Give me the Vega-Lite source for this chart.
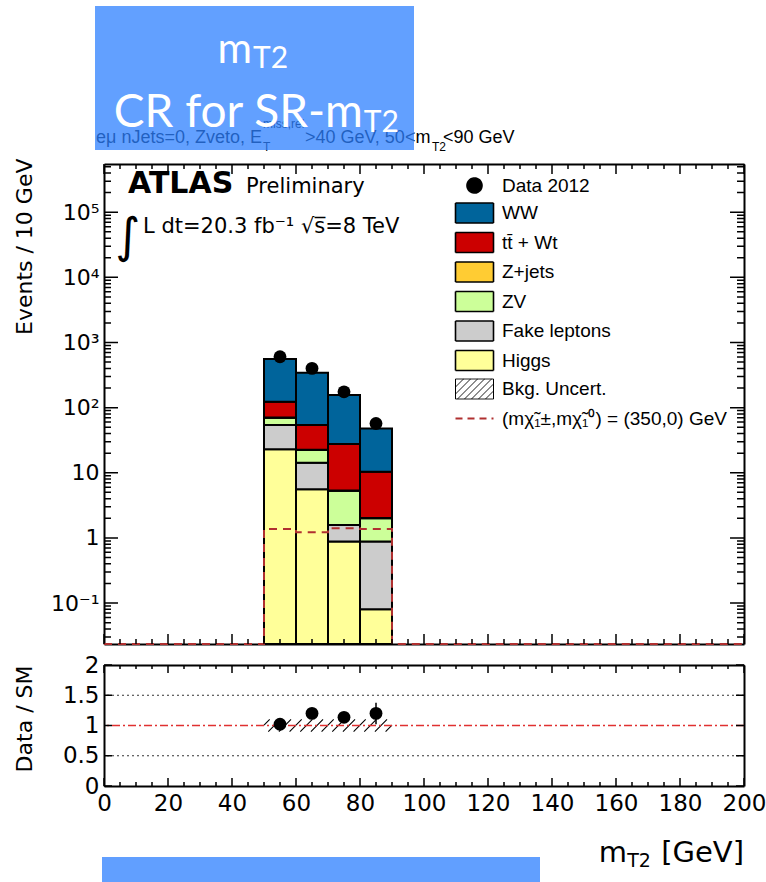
{
  "$schema": "https://vega.github.io/schema/vega-lite/v6.json",
  "width": 640,
  "height": 622,
  "autosize": {"type": "none"},
  "padding": {"left": 104, "top": 164, "right": 22, "bottom": 96},
  "background": "white",
  "datasets": {
    "ymaj": [{"v": 0.1}, {"v": 1}, {"v": 10}, {"v": 100}, {"v": 1000}, {"v": 10000}, {"v": 100000}],
    "ymin": [{"v": 0.03}, {"v": 0.04}, {"v": 0.05}, {"v": 0.06}, {"v": 0.07}, {"v": 0.08}, {"v": 0.09},
             {"v": 0.2}, {"v": 0.3}, {"v": 0.4}, {"v": 0.5}, {"v": 0.6}, {"v": 0.7}, {"v": 0.8}, {"v": 0.9},
             {"v": 2}, {"v": 3}, {"v": 4}, {"v": 5}, {"v": 6}, {"v": 7}, {"v": 8}, {"v": 9},
             {"v": 20}, {"v": 30}, {"v": 40}, {"v": 50}, {"v": 60}, {"v": 70}, {"v": 80}, {"v": 90},
             {"v": 200}, {"v": 300}, {"v": 400}, {"v": 500}, {"v": 600}, {"v": 700}, {"v": 800}, {"v": 900},
             {"v": 2000}, {"v": 3000}, {"v": 4000}, {"v": 5000}, {"v": 6000}, {"v": 7000}, {"v": 8000}, {"v": 9000},
             {"v": 20000}, {"v": 30000}, {"v": 40000}, {"v": 50000}, {"v": 60000}, {"v": 70000}, {"v": 80000}, {"v": 90000},
             {"v": 200000}, {"v": 300000}, {"v": 400000}, {"v": 500000}],
    "xmaj": [{"v": 0}, {"v": 20}, {"v": 40}, {"v": 60}, {"v": 80}, {"v": 100}, {"v": 120}, {"v": 140}, {"v": 160}, {"v": 180}, {"v": 200}],
    "xmin": [{"v": 5}, {"v": 10}, {"v": 15}, {"v": 25}, {"v": 30}, {"v": 35}, {"v": 45}, {"v": 50}, {"v": 55}, {"v": 65}, {"v": 70}, {"v": 75},
             {"v": 85}, {"v": 90}, {"v": 95}, {"v": 105}, {"v": 110}, {"v": 115}, {"v": 125}, {"v": 130}, {"v": 135}, {"v": 145}, {"v": 150}, {"v": 155},
             {"v": 165}, {"v": 170}, {"v": 175}, {"v": 185}, {"v": 190}, {"v": 195}],
    "rmaj": [{"v": 0}, {"v": 0.5}, {"v": 1}, {"v": 1.5}, {"v": 2}]
  },
  "config": {
    "view": {"stroke": null},
    "axis": {"zindex": 1, "domainColor": "black", "domainWidth": 2, "tickColor": "black", "tickWidth": 1.5, "labelColor": "black", "labelFont": "DejaVu Sans", "labelFontSize": 22, "titleFont": "DejaVu Sans", "titleFontWeight": "normal", "titleColor": "black", "grid": false, "labelOverlap": false, "labelFlush": false}
  },
  "resolve": {"scale": {"y": "independent"}, "axis": {"x": "independent", "y": "independent"}},
  "layer": [
    {
      "data": {"values": [
        {"comp": "Higgs", "lo": 50, "hi": 60, "ylo": 0.001, "yhi": 22.9},
        {"comp": "Fake leptons", "lo": 50, "hi": 60, "ylo": 22.9, "yhi": 54},
        {"comp": "ZV", "lo": 50, "hi": 60, "ylo": 54, "yhi": 70},
        {"comp": "Z+jets", "lo": 50, "hi": 60, "ylo": 70, "yhi": 70.4},
        {"comp": "tt̄ + Wt", "lo": 50, "hi": 60, "ylo": 70.4, "yhi": 123},
        {"comp": "WW", "lo": 50, "hi": 60, "ylo": 123, "yhi": 556},
        {"comp": "Higgs", "lo": 60, "hi": 70, "ylo": 0.001, "yhi": 5.6},
        {"comp": "Fake leptons", "lo": 60, "hi": 70, "ylo": 5.6, "yhi": 14.3},
        {"comp": "ZV", "lo": 60, "hi": 70, "ylo": 14.3, "yhi": 22.4},
        {"comp": "Z+jets", "lo": 60, "hi": 70, "ylo": 22.4, "yhi": 22.6},
        {"comp": "tt̄ + Wt", "lo": 60, "hi": 70, "ylo": 22.6, "yhi": 54},
        {"comp": "WW", "lo": 60, "hi": 70, "ylo": 54, "yhi": 343},
        {"comp": "Higgs", "lo": 70, "hi": 80, "ylo": 0.001, "yhi": 0.88},
        {"comp": "Fake leptons", "lo": 70, "hi": 80, "ylo": 0.88, "yhi": 1.58},
        {"comp": "ZV", "lo": 70, "hi": 80, "ylo": 1.58, "yhi": 5.3},
        {"comp": "Z+jets", "lo": 70, "hi": 80, "ylo": 5.3, "yhi": 5.35},
        {"comp": "tt̄ + Wt", "lo": 70, "hi": 80, "ylo": 5.35, "yhi": 27.7},
        {"comp": "WW", "lo": 70, "hi": 80, "ylo": 27.7, "yhi": 156},
        {"comp": "Higgs", "lo": 80, "hi": 90, "ylo": 0.001, "yhi": 0.08},
        {"comp": "Fake leptons", "lo": 80, "hi": 90, "ylo": 0.08, "yhi": 0.88},
        {"comp": "ZV", "lo": 80, "hi": 90, "ylo": 0.88, "yhi": 2.0},
        {"comp": "Z+jets", "lo": 80, "hi": 90, "ylo": 2.0, "yhi": 2.02},
        {"comp": "tt̄ + Wt", "lo": 80, "hi": 90, "ylo": 2.02, "yhi": 10.4},
        {"comp": "WW", "lo": 80, "hi": 90, "ylo": 10.4, "yhi": 48}
      ]},
      "mark": {"type": "rect", "stroke": "black", "strokeWidth": 2},
      "encoding": {
        "x": {"field": "lo", "type": "quantitative", "scale": {"domain": [0, 200], "nice": false, "zero": false},
          "axis": {"orient": "bottom", "offset": -142, "values": [0, 200], "labels": false, "ticks": false, "title": null}},
        "x2": {"field": "hi"},
        "y": {"field": "ylo", "type": "quantitative", "scale": {"type": "log", "domain": [0.0235, 550000], "range": [480, 0], "nice": false, "clamp": true},
          "axis": {"orient": "left", "values": [0.1, 1, 10, 100, 1000, 10000, 100000], "ticks": false,
            "labelExpr": "datum.value === 0.1 ? '10⁻¹' : datum.value === 1 ? '1' : datum.value === 10 ? '10' : datum.value === 100 ? '10²' : datum.value === 1000 ? '10³' : datum.value === 10000 ? '10⁴' : datum.value === 100000 ? '10⁵' : ''",
            "labelPadding": 5,
            "title": "Events / 10 GeV", "titleFontSize": 22, "titleAlign": "right", "titleAnchor": "end", "titleX": -68, "titleY": -6}},
        "y2": {"field": "yhi"},
        "color": {"field": "comp", "type": "nominal",
          "scale": {"domain": ["Data 2012", "WW", "tt̄ + Wt", "Z+jets", "ZV", "Fake leptons", "Higgs", "Bkg. Uncert.", "(mχ̃₁±,mχ̃₁⁰) = (350,0) GeV"],
                    "range": ["black", "#00649b", "#cc0000", "#ffcc33", "#ccff99", "#cccccc", "#ffff99", "white", "white"]},
          "legend": {"orient": "none", "legendX": 361, "legendY": 12, "title": null, "padding": 0, "direction": "vertical",
            "symbolType": "M-1.9,-1H1.9V1H-1.9Z", "symbolSize": 400, "symbolStrokeColor": "black", "symbolStrokeWidth": 1.6, "symbolOpacity": 1,
            "labelFont": "Liberation Sans", "labelFontSize": 19, "labelColor": "black", "labelOffset": 18, "labelLimit": 400, "rowPadding": 2.5,
            "encode": {"symbols": {"update": {
              "shape": {"signal": "datum.index === 0 ? 'M-0.75,0A0.75,0.75,0,1,0,0.75,0A0.75,0.75,0,1,0,-0.75,0Z' : datum.index === 7 ? 'M-1.9,-1H1.9V1H-1.9Z M-1.9,-0.2L-1.1,-1 M-1.9,0.5L-0.4,-1 M-1.7,1L0.3,-1 M-1,1L1,-1 M-0.3,1L1.7,-1 M0.4,1L1.9,-0.5 M1.1,1L1.9,0.2' : datum.index === 8 ? 'M-1.9,0H1.9M0,-1L0,-1M0,1L0,1' : 'M-1.9,-1H1.9V1H-1.9Z'"},
              "stroke": {"signal": "datum.index === 8 ? '#b03030' : 'black'"},
              "strokeDash": {"signal": "datum.index === 8 ? [7,5] : [1,0]"},
              "strokeWidth": {"signal": "datum.index === 8 ? 2.2 : datum.index === 7 ? 1 : 1.6"}
            }}}}}
      }
    },
    {
      "data": {"values": [{"x": 55, "n": 604}, {"x": 65, "n": 400}, {"x": 75, "n": 175}, {"x": 85, "n": 57}]},
      "mark": {"type": "point", "filled": true, "color": "black", "size": 165, "opacity": 1},
      "encoding": {
        "x": {"field": "x", "type": "quantitative", "scale": {"domain": [0, 200], "nice": false, "zero": false},
          "axis": {"orient": "top", "values": [0, 200], "labels": false, "ticks": false, "title": null}},
        "y": {"field": "n", "type": "quantitative", "scale": {"type": "log", "domain": [0.0235, 550000], "range": [480, 0], "nice": false, "clamp": true},
          "axis": {"orient": "right", "values": [1], "labels": false, "ticks": false, "title": null}}
      }
    },
    {
      "data": {"values": [{"x": 0, "s": 0.001}, {"x": 50, "s": 1.37}, {"x": 60, "s": 1.22}, {"x": 70, "s": 1.41}, {"x": 80, "s": 1.37}, {"x": 90, "s": 0.001}, {"x": 200, "s": 0.001}]},
      "mark": {"type": "line", "interpolate": "step-after", "color": "#b03030", "strokeWidth": 2, "strokeDash": [8, 6]},
      "encoding": {
        "x": {"field": "x", "type": "quantitative", "scale": {"domain": [0, 200], "nice": false, "zero": false}, "axis": null},
        "y": {"field": "s", "type": "quantitative", "scale": {"type": "log", "domain": [0.0235, 550000], "range": [480, 0], "nice": false, "clamp": true}, "axis": null}
      }
    },
    {
      "data": {"name": "ymaj"},
      "mark": {"type": "point", "shape": "M0,0L2,0M89.43,0L91.43,0", "size": 196, "filled": false, "color": "black", "strokeWidth": 1.5, "opacity": 1},
      "encoding": {
        "x": {"datum": 0, "type": "quantitative", "scale": {"domain": [0, 200], "nice": false, "zero": false}, "axis": null},
        "y": {"field": "v", "type": "quantitative", "scale": {"type": "log", "domain": [0.0235, 550000], "range": [480, 0], "nice": false}, "axis": null}
      }
    },
    {
      "data": {"name": "ymin"},
      "mark": {"type": "point", "shape": "M0,0L2,0M180.86,0L182.86,0", "size": 49, "filled": false, "color": "black", "strokeWidth": 1.5, "opacity": 1},
      "encoding": {
        "x": {"datum": 0, "type": "quantitative", "scale": {"domain": [0, 200], "nice": false, "zero": false}, "axis": null},
        "y": {"field": "v", "type": "quantitative", "scale": {"type": "log", "domain": [0.0235, 550000], "range": [480, 0], "nice": false}, "axis": null}
      }
    },
    {
      "data": {"name": "xmaj"},
      "mark": {"type": "point", "shape": "M0,0L0,2M0,94L0,96", "size": 100, "filled": false, "color": "black", "strokeWidth": 1.5, "opacity": 1},
      "encoding": {
        "x": {"field": "v", "type": "quantitative", "scale": {"domain": [0, 200], "nice": false, "zero": false}, "axis": null},
        "y": {"datum": 550000, "type": "quantitative", "scale": {"type": "log", "domain": [0.0235, 550000], "range": [480, 0], "nice": false}, "axis": null}
      }
    },
    {
      "data": {"name": "xmin"},
      "mark": {"type": "point", "shape": "M0,0L0,2M0,190L0,192", "size": 25, "filled": false, "color": "black", "strokeWidth": 1.5, "opacity": 1},
      "encoding": {
        "x": {"field": "v", "type": "quantitative", "scale": {"domain": [0, 200], "nice": false, "zero": false}, "axis": null},
        "y": {"datum": 550000, "type": "quantitative", "scale": {"type": "log", "domain": [0.0235, 550000], "range": [480, 0], "nice": false}, "axis": null}
      }
    },
    {
      "data": {"values": [{}]},
      "mark": {"type": "text", "text": "ATLAS", "align": "left", "baseline": "alphabetic", "font": "DejaVu Sans", "fontSize": 30, "fontWeight": "bold", "color": "black"},
      "encoding": {
        "x": {"datum": 7.5, "type": "quantitative", "scale": {"domain": [0, 200], "nice": false, "zero": false}, "axis": null},
        "y": {"datum": 197000, "type": "quantitative", "scale": {"type": "log", "domain": [0.0235, 550000], "range": [480, 0], "nice": false}, "axis": null}
      }
    },
    {
      "data": {"values": [{}]},
      "mark": {"type": "text", "text": "Preliminary", "align": "left", "baseline": "alphabetic", "font": "DejaVu Sans", "fontSize": 21, "color": "black"},
      "encoding": {
        "x": {"datum": 44.4, "type": "quantitative", "scale": {"domain": [0, 200], "nice": false, "zero": false}, "axis": null},
        "y": {"datum": 197000, "type": "quantitative", "scale": {"type": "log", "domain": [0.0235, 550000], "range": [480, 0], "nice": false}, "axis": null}
      }
    },
    {
      "data": {"values": [{}]},
      "mark": {"type": "text", "text": "∫", "align": "center", "baseline": "middle", "font": "DejaVu Sans", "fontSize": 48, "color": "black"},
      "encoding": {
        "x": {"datum": 7.5, "type": "quantitative", "scale": {"domain": [0, 200], "nice": false, "zero": false}, "axis": null},
        "y": {"datum": 40180, "type": "quantitative", "scale": {"type": "log", "domain": [0.0235, 550000], "range": [480, 0], "nice": false}, "axis": null}
      }
    },
    {
      "data": {"values": [{}]},
      "mark": {"type": "text", "text": "L dt=20.3 fb⁻¹  √s̅=8 TeV", "align": "left", "baseline": "alphabetic", "font": "DejaVu Sans", "fontSize": 21, "color": "black"},
      "encoding": {
        "x": {"datum": 12.2, "type": "quantitative", "scale": {"domain": [0, 200], "nice": false, "zero": false}, "axis": null},
        "y": {"datum": 47970, "type": "quantitative", "scale": {"type": "log", "domain": [0.0235, 550000], "range": [480, 0], "nice": false}, "axis": null}
      }
    },
    {
      "data": {"values": [{}]},
      "mark": {"type": "text", "text": "eμ nJets=0, Zveto, E", "align": "left", "baseline": "alphabetic", "font": "Liberation Sans", "fontSize": 18, "color": "black"},
      "encoding": {
        "x": {"datum": -2.5, "type": "quantitative", "scale": {"domain": [0, 200], "nice": false, "zero": false}, "axis": null},
        "y": {"datum": 1155000, "type": "quantitative", "scale": {"type": "log", "domain": [0.0235, 550000], "range": [480, 0], "nice": false}, "axis": null}
      }
    },
    {
      "data": {"values": [{}]},
      "mark": {"type": "text", "text": "miss,rel", "align": "left", "baseline": "alphabetic", "font": "Liberation Sans", "fontSize": 12, "color": "black"},
      "encoding": {
        "x": {"datum": 49.7, "type": "quantitative", "scale": {"domain": [0, 200], "nice": false, "zero": false}, "axis": null},
        "y": {"datum": 1962000, "type": "quantitative", "scale": {"type": "log", "domain": [0.0235, 550000], "range": [480, 0], "nice": false}, "axis": null}
      }
    },
    {
      "data": {"values": [{}]},
      "mark": {"type": "text", "text": "T", "align": "left", "baseline": "alphabetic", "font": "Liberation Sans", "fontSize": 12, "color": "black"},
      "encoding": {
        "x": {"datum": 49.7, "type": "quantitative", "scale": {"domain": [0, 200], "nice": false, "zero": false}, "axis": null},
        "y": {"datum": 860000, "type": "quantitative", "scale": {"type": "log", "domain": [0.0235, 550000], "range": [480, 0], "nice": false}, "axis": null}
      }
    },
    {
      "data": {"values": [{}]},
      "mark": {"type": "text", "text": ">40 GeV, 50<m", "align": "left", "baseline": "alphabetic", "font": "Liberation Sans", "fontSize": 18, "color": "black"},
      "encoding": {
        "x": {"datum": 62.8, "type": "quantitative", "scale": {"domain": [0, 200], "nice": false, "zero": false}, "axis": null},
        "y": {"datum": 1155000, "type": "quantitative", "scale": {"type": "log", "domain": [0.0235, 550000], "range": [480, 0], "nice": false}, "axis": null}
      }
    },
    {
      "data": {"values": [{}]},
      "mark": {"type": "text", "text": "T2", "align": "left", "baseline": "alphabetic", "font": "Liberation Sans", "fontSize": 12, "color": "black"},
      "encoding": {
        "x": {"datum": 102.5, "type": "quantitative", "scale": {"domain": [0, 200], "nice": false, "zero": false}, "axis": null},
        "y": {"datum": 860000, "type": "quantitative", "scale": {"type": "log", "domain": [0.0235, 550000], "range": [480, 0], "nice": false}, "axis": null}
      }
    },
    {
      "data": {"values": [{}]},
      "mark": {"type": "text", "text": "<90 GeV", "align": "left", "baseline": "alphabetic", "font": "Liberation Sans", "fontSize": 18, "color": "black"},
      "encoding": {
        "x": {"datum": 105.9, "type": "quantitative", "scale": {"domain": [0, 200], "nice": false, "zero": false}, "axis": null},
        "y": {"datum": 1155000, "type": "quantitative", "scale": {"type": "log", "domain": [0.0235, 550000], "range": [480, 0], "nice": false}, "axis": null}
      }
    },
    {
      "data": {"values": [{}]},
      "mark": {"type": "rect", "color": "#2e80ff", "opacity": 0.75},
      "encoding": {
        "x": {"datum": -2.81, "type": "quantitative", "scale": {"domain": [0, 200], "nice": false, "zero": false}, "axis": null},
        "x2": {"datum": 96.875},
        "y": {"datum": 902000, "type": "quantitative", "scale": {"type": "log", "domain": [0.0235, 550000], "range": [480, 0], "nice": false}, "axis": null},
        "y2": {"datum": 146400000}
      }
    },
    {
      "data": {"values": [{}]},
      "mark": {"type": "text", "text": "m", "align": "right", "baseline": "alphabetic", "font": "Lato", "fontSize": 42, "color": "white"},
      "encoding": {
        "x": {"datum": 46.25, "type": "quantitative", "scale": {"domain": [0, 200], "nice": false, "zero": false}, "axis": null},
        "y": {"datum": 19300000, "type": "quantitative", "scale": {"type": "log", "domain": [0.0235, 550000], "range": [480, 0], "nice": false}, "axis": null}
      }
    },
    {
      "data": {"values": [{}]},
      "mark": {"type": "text", "text": "T2", "align": "left", "baseline": "alphabetic", "font": "Lato", "fontSize": 30, "color": "white"},
      "encoding": {
        "x": {"datum": 46.6, "type": "quantitative", "scale": {"domain": [0, 200], "nice": false, "zero": false}, "axis": null},
        "y": {"datum": 16200000, "type": "quantitative", "scale": {"type": "log", "domain": [0.0235, 550000], "range": [480, 0], "nice": false}, "axis": null}
      }
    },
    {
      "data": {"values": [{}]},
      "mark": {"type": "text", "text": "CR for SR-m", "align": "right", "baseline": "alphabetic", "font": "Lato", "fontSize": 46, "color": "white"},
      "encoding": {
        "x": {"datum": 80.9, "type": "quantitative", "scale": {"domain": [0, 200], "nice": false, "zero": false}, "axis": null},
        "y": {"datum": 2054000, "type": "quantitative", "scale": {"type": "log", "domain": [0.0235, 550000], "range": [480, 0], "nice": false}, "axis": null}
      }
    },
    {
      "data": {"values": [{}]},
      "mark": {"type": "text", "text": "T2", "align": "left", "baseline": "alphabetic", "font": "Lato", "fontSize": 30, "color": "white"},
      "encoding": {
        "x": {"datum": 81.2, "type": "quantitative", "scale": {"domain": [0, 200], "nice": false, "zero": false}, "axis": null},
        "y": {"datum": 1721000, "type": "quantitative", "scale": {"type": "log", "domain": [0.0235, 550000], "range": [480, 0], "nice": false}, "axis": null}
      }
    },
    {
      "data": {"values": [{"x": 55, "r": 1}, {"x": 65, "r": 1}, {"x": 75, "r": 1}, {"x": 85, "r": 1}]},
      "mark": {"type": "point", "shape": "M-1,-0.022L-0.644,-0.378M-0.733,0.378L0.023,-0.378M-0.067,0.378L0.689,-0.378M0.6,0.378L1,-0.022", "size": 1024, "filled": false, "stroke": "black", "strokeWidth": 1.1, "opacity": 1},
      "encoding": {
        "x": {"field": "x", "type": "quantitative", "scale": {"domain": [0, 200], "nice": false, "zero": false},
          "axis": {"orient": "bottom", "values": [0, 20, 40, 60, 80, 100, 120, 140, 160, 180, 200], "format": "d", "labelFontSize": 23, "labelPadding": 6, "ticks": false, "title": null}},
        "y": {"field": "r", "type": "quantitative", "scale": {"type": "linear", "domain": [0, 2], "range": [622, 501], "nice": false, "zero": false},
          "axis": {"orient": "left", "values": [0, 0.5, 1, 1.5, 2], "format": "~g", "ticks": false, "labelPadding": 5, "labelFontSize": 23,
            "title": "Data / SM", "titleFontSize": 22, "titleAlign": "right", "titleAnchor": "end", "titleX": -68, "titleY": 501}}
      }
    },
    {
      "data": {"values": [{}]},
      "mark": {"type": "rule", "color": "#333333", "strokeDash": [2, 3], "strokeWidth": 1},
      "encoding": {"y": {"datum": 0.5, "type": "quantitative", "scale": {"type": "linear", "domain": [0, 2], "range": [622, 501], "nice": false, "zero": false}, "axis": null}}
    },
    {
      "data": {"values": [{}]},
      "mark": {"type": "rule", "color": "#333333", "strokeDash": [2, 3], "strokeWidth": 1},
      "encoding": {"y": {"datum": 1.5, "type": "quantitative", "scale": {"type": "linear", "domain": [0, 2], "range": [622, 501], "nice": false, "zero": false}, "axis": null}}
    },
    {
      "data": {"values": [{}]},
      "mark": {"type": "rule", "color": "#e03030", "strokeDash": [8, 3, 2, 3], "strokeWidth": 1.5},
      "encoding": {"y": {"datum": 1, "type": "quantitative", "scale": {"type": "linear", "domain": [0, 2], "range": [622, 501], "nice": false, "zero": false}, "axis": null}}
    },
    {
      "data": {"values": [{"x": 55, "r": 1.02, "lo": 0.98, "hi": 1.06}, {"x": 65, "r": 1.2, "lo": 1.14, "hi": 1.26}, {"x": 75, "r": 1.135, "lo": 1.05, "hi": 1.22}, {"x": 85, "r": 1.2, "lo": 1.02, "hi": 1.377}]},
      "mark": {"type": "rule", "color": "black", "strokeWidth": 1.5},
      "encoding": {
        "x": {"field": "x", "type": "quantitative", "scale": {"domain": [0, 200], "nice": false, "zero": false}, "axis": null},
        "y": {"field": "lo", "type": "quantitative", "scale": {"type": "linear", "domain": [0, 2], "range": [622, 501], "nice": false, "zero": false}, "axis": null},
        "y2": {"field": "hi"}
      }
    },
    {
      "data": {"values": [{"x": 55, "r": 1.02}, {"x": 65, "r": 1.2}, {"x": 75, "r": 1.135}, {"x": 85, "r": 1.2}]},
      "mark": {"type": "point", "filled": true, "color": "black", "size": 165, "opacity": 1},
      "encoding": {
        "x": {"field": "x", "type": "quantitative", "scale": {"domain": [0, 200], "nice": false, "zero": false},
          "axis": {"orient": "top", "offset": -501, "values": [0, 200], "labels": false, "ticks": false, "title": null}},
        "y": {"field": "r", "type": "quantitative", "scale": {"type": "linear", "domain": [0, 2], "range": [622, 501], "nice": false, "zero": false},
          "axis": {"orient": "right", "values": [1], "labels": false, "ticks": false, "title": null}}
      }
    },
    {
      "data": {"name": "rmaj"},
      "mark": {"type": "point", "shape": "M0,0L2,0M158,0L160,0", "size": 64, "filled": false, "color": "black", "strokeWidth": 1.5, "opacity": 1},
      "encoding": {
        "x": {"datum": 0, "type": "quantitative", "scale": {"domain": [0, 200], "nice": false, "zero": false}, "axis": null},
        "y": {"field": "v", "type": "quantitative", "scale": {"type": "linear", "domain": [0, 2], "range": [622, 501], "nice": false, "zero": false}, "axis": null}
      }
    },
    {
      "data": {"name": "xmaj"},
      "mark": {"type": "point", "shape": "M0,0L0,2M0,28.25L0,30.25", "size": 64, "filled": false, "color": "black", "strokeWidth": 1.5, "opacity": 1},
      "encoding": {
        "x": {"field": "v", "type": "quantitative", "scale": {"domain": [0, 200], "nice": false, "zero": false}, "axis": null},
        "y": {"datum": 2, "type": "quantitative", "scale": {"type": "linear", "domain": [0, 2], "range": [622, 501], "nice": false, "zero": false}, "axis": null}
      }
    },
    {
      "data": {"name": "xmin"},
      "mark": {"type": "point", "shape": "M0,0L0,2M0,58.5L0,60.5", "size": 16, "filled": false, "color": "black", "strokeWidth": 1.5, "opacity": 1},
      "encoding": {
        "x": {"field": "v", "type": "quantitative", "scale": {"domain": [0, 200], "nice": false, "zero": false}, "axis": null},
        "y": {"datum": 2, "type": "quantitative", "scale": {"type": "linear", "domain": [0, 2], "range": [622, 501], "nice": false, "zero": false}, "axis": null}
      }
    },
    {
      "data": {"values": [{}]},
      "mark": {"type": "rect", "color": "#619fff"},
      "encoding": {
        "x": {"datum": -0.625, "type": "quantitative", "scale": {"domain": [0, 200], "nice": false, "zero": false}, "axis": null},
        "x2": {"datum": 136.25},
        "y": {"datum": -1.1736, "type": "quantitative", "scale": {"type": "linear", "domain": [0, 2], "range": [622, 501], "nice": false, "zero": false}, "axis": null},
        "y2": {"datum": -1.587}
      }
    },
    {
      "data": {"values": [{}]},
      "mark": {"type": "text", "text": "m", "align": "right", "baseline": "alphabetic", "font": "DejaVu Sans", "fontSize": 29, "color": "black"},
      "encoding": {
        "x": {"datum": 163.4, "type": "quantitative", "scale": {"domain": [0, 200], "nice": false, "zero": false}, "axis": null},
        "y": {"datum": -1.256, "type": "quantitative", "scale": {"type": "linear", "domain": [0, 2], "range": [622, 501], "nice": false, "zero": false}, "axis": null}
      }
    },
    {
      "data": {"values": [{}]},
      "mark": {"type": "text", "text": "T2", "align": "left", "baseline": "alphabetic", "font": "DejaVu Sans", "fontSize": 19, "color": "black"},
      "encoding": {
        "x": {"datum": 163.5, "type": "quantitative", "scale": {"domain": [0, 200], "nice": false, "zero": false}, "axis": null},
        "y": {"datum": -1.339, "type": "quantitative", "scale": {"type": "linear", "domain": [0, 2], "range": [622, 501], "nice": false, "zero": false}, "axis": null}
      }
    },
    {
      "data": {"values": [{}]},
      "mark": {"type": "text", "text": "[GeV]", "align": "right", "baseline": "alphabetic", "font": "DejaVu Sans", "fontSize": 29, "color": "black"},
      "encoding": {
        "x": {"datum": 200, "type": "quantitative", "scale": {"domain": [0, 200], "nice": false, "zero": false}, "axis": null},
        "y": {"datum": -1.256, "type": "quantitative", "scale": {"type": "linear", "domain": [0, 2], "range": [622, 501], "nice": false, "zero": false}, "axis": null}
      }
    }
  ]
}
